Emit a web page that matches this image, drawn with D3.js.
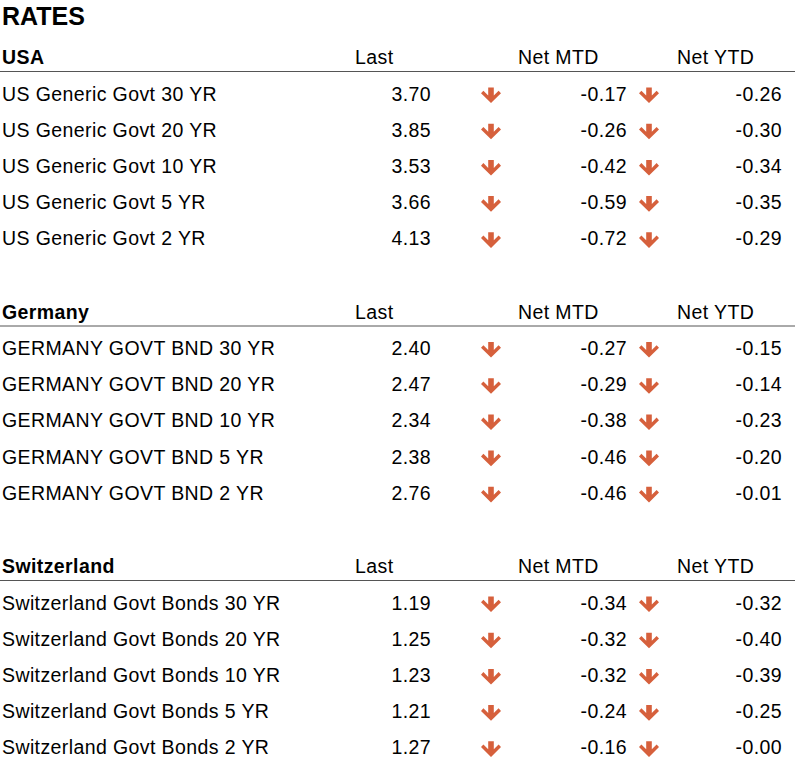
<!DOCTYPE html>
<html><head><meta charset="utf-8">
<script src="https://cdn.jsdelivr.net/npm/d3@7"></script>
<style>body{margin:0;background:#fff}</style>
</head><body>
<svg id="c" width="795" height="767"></svg>
<script>
const sections = ["USA", "Germany", "Switzerland"];
const names = [
  ["US Generic Govt 30 YR","US Generic Govt 20 YR","US Generic Govt 10 YR","US Generic Govt 5 YR","US Generic Govt 2 YR"],
  ["GERMANY GOVT BND 30 YR","GERMANY GOVT BND 20 YR","GERMANY GOVT BND 10 YR","GERMANY GOVT BND 5 YR","GERMANY GOVT BND 2 YR"],
  ["Switzerland Govt Bonds 30 YR","Switzerland Govt Bonds 20 YR","Switzerland Govt Bonds 10 YR","Switzerland Govt Bonds 5 YR","Switzerland Govt Bonds 2 YR"]
];
const last = [["3.70","3.85","3.53","3.66","4.13"],["2.40","2.47","2.34","2.38","2.76"],["1.19","1.25","1.23","1.21","1.27"]];
const mtd = [["-0.17","-0.26","-0.42","-0.59","-0.72"],["-0.27","-0.29","-0.38","-0.46","-0.46"],["-0.34","-0.32","-0.32","-0.24","-0.16"]];
const ytd = [["-0.26","-0.30","-0.34","-0.35","-0.29"],["-0.15","-0.14","-0.23","-0.20","-0.01"],["-0.32","-0.40","-0.39","-0.25","-0.00"]];

const svg = d3.select("#c");
const font = "Liberation Sans, Arial, sans-serif";
const arrowColor = "#d6603c";
const secY = d3.scaleLinear().domain([0, 1]).range([57, 311.5]);
const rowY = d3.scaleLinear().domain([0, 1]).range([93.5, 129.7]);

svg.append("text").attr("x", 2).attr("y", 25).attr("font-family", font)
  .attr("font-size", 25).attr("font-weight", "bold").text("RATES");

function arrow(g, cx, cy) {
  g.append("path")
    .attr("d", `M${cx-2.8},${cy-8} h5.6 v8 l4.8,-4.8 l2.4,2.6 l-10,9.8 l-10,-9.8 l2.4,-2.6 l4.8,4.8 z`)
    .attr("fill", arrowColor);
}

const txt = (g, x, y, s, anchor, bold) => g.append("text").attr("x", x).attr("y", y)
  .attr("font-family", font).attr("font-size", 19.5).attr("letter-spacing", 0.4)
  .attr("font-weight", bold ? "bold" : "normal").attr("text-anchor", anchor).text(s);

sections.forEach((s, si) => {
  const g = svg.append("g").attr("transform", `translate(0,${secY(si)})`);
  txt(g, 2, 7, s, "start", true);
  [["Last", 355], ["Net MTD", 518], ["Net YTD", 677]].forEach(([t, x]) => txt(g, x, 7, t, "start"));
  g.append("line").attr("x1", 0).attr("x2", 795).attr("y1", 14.5).attr("y2", 14.5)
    .attr("stroke", "#555").attr("stroke-width", 1);
  names[si].forEach((n, i) => {
    const y = rowY(i) - secY(0) + 7;
    txt(g, 2, y, n, "start");
    txt(g, 431, y, last[si][i], "end");
    txt(g, 627, y, mtd[si][i], "end");
    txt(g, 782, y, ytd[si][i], "end");
    arrow(g, 491, y - 5);
    arrow(g, 649, y - 5);
  });
});
</script>
</body></html>
